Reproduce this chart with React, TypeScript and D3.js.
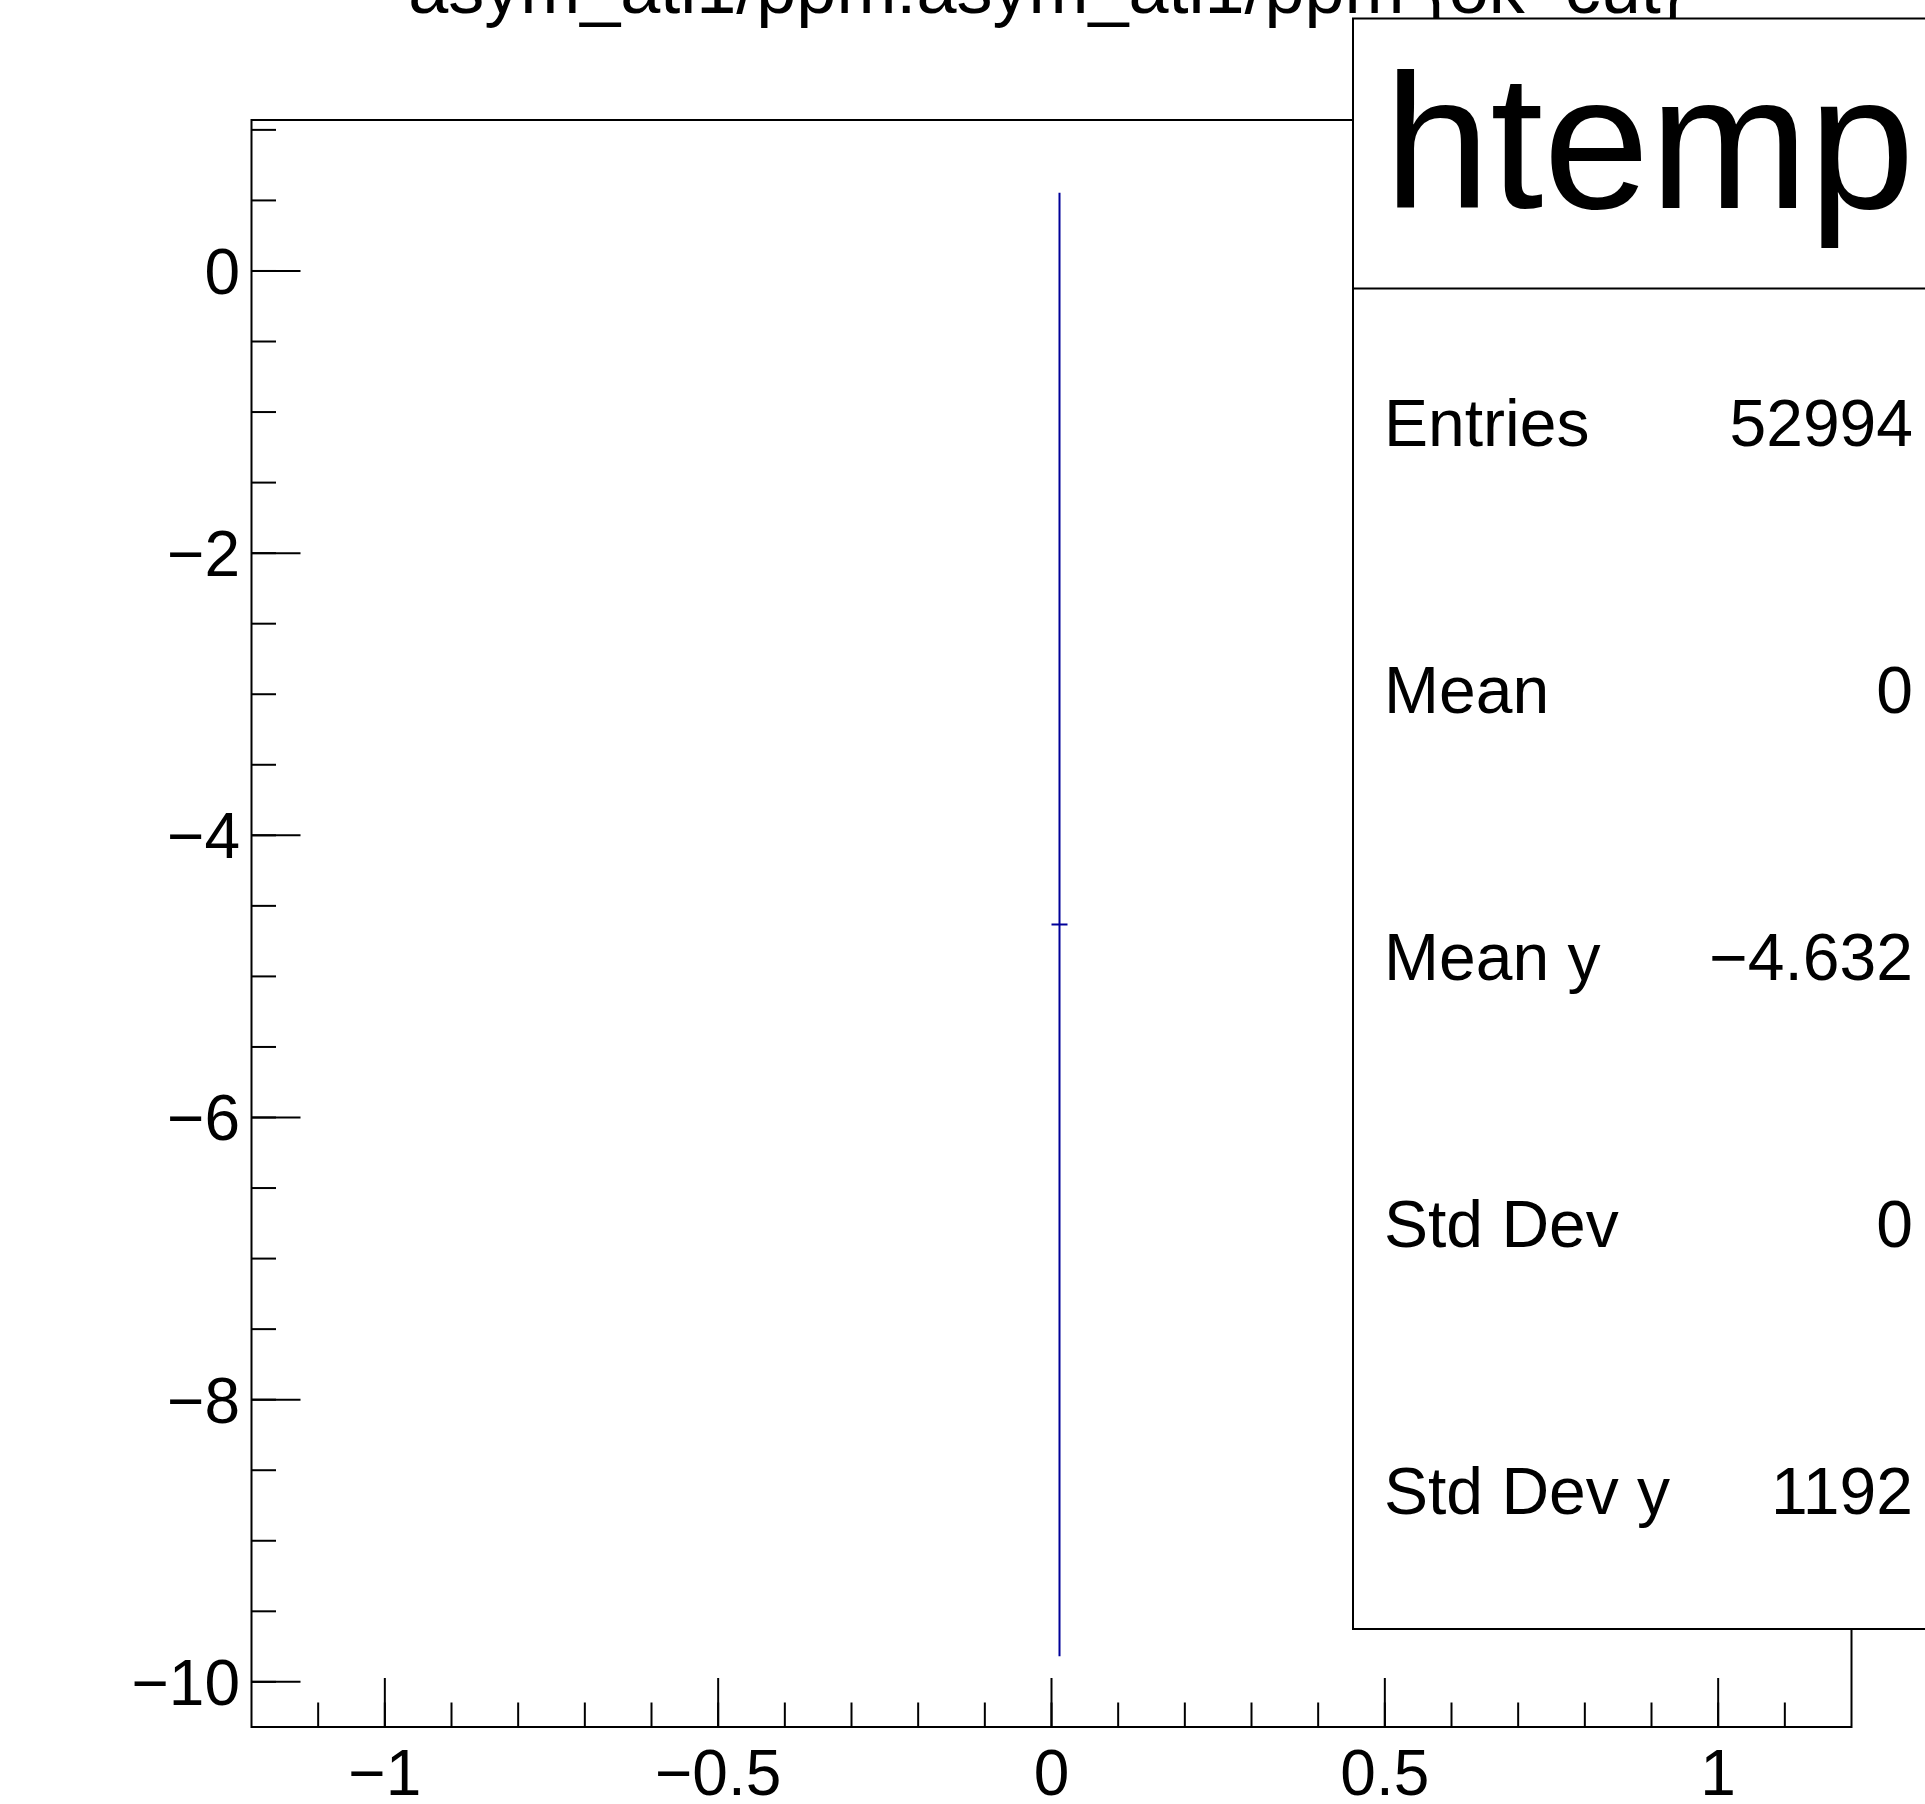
import React from "react";
import * as d3 from "d3";

// ---- data ----
const binCenters = [0.012];
const binMeans = [-4.632];
const binErrors = [5.186];
const binWidth = 0.024;

const xMajorTicks = [-1, -0.5, 0, 0.5, 1];
const yMajorTicks = [0, -2, -4, -6, -8, -10];
const xDomain = [-1.2, 1.2];
const yDomain = [-10.32, 1.07];

const titleText = "asym_atl1/ppm:asym_atl1/ppm {ok_cut}";
const statsName = "htemp";
const statsLabels = ["Entries", "Mean", "Mean y", "Std Dev", "Std Dev y"];
const statsValues = ["52994", "0", "\u22124.632", "0", "1192"];

const W = 1925;
const H = 1804;
const frame = { left: 251.5, right: 1851.5, top: 120, bottom: 1727 };
const FONT = "'Liberation Sans', Arial, Helvetica, sans-serif";
const LINE_COLOR = "#000099";

const fmt = (v: number) => {
  const s = d3.format("")(v);
  return s.replace("-", "\u2212");
};

export default function App() {
  const x = d3.scaleLinear().domain(xDomain).range([frame.left, frame.right]);
  const y = d3.scaleLinear().domain(yDomain).range([frame.bottom, frame.top]);

  const xMinor = d3.range(-11, 12).map((i) => i / 10).filter((v) => v >= xDomain[0] && v <= xDomain[1]);
  const yMinor = d3.range(-21, 3).map((i) => i / 2).filter((v) => v >= yDomain[0] && v <= yDomain[1]);

  const majorLen = 49;
  const minorLen = 24.5;

  const stats = { x: 1353, y: 18.5, w: 620, h: 1610.5, div: 288.5 };

  return (
    <div style={{ position: "absolute", left: 0, top: 0, width: W, height: H, overflow: "hidden" }}>
      <svg width={W} height={H} style={{ display: "block", background: "#fff" }} fontFamily={FONT}>
        <rect x={0} y={0} width={W} height={H} fill="#fff" />
        {/* title */}
        <text x={1046.5} y={13} fontSize={72} textAnchor="middle" fill="#000">
          {titleText}
        </text>

        {/* frame */}
        <rect
          x={frame.left}
          y={frame.top}
          width={frame.right - frame.left}
          height={frame.bottom - frame.top}
          fill="none"
          stroke="#000"
          strokeWidth={2}
        />

        {/* x axis ticks */}
        {xMinor.map((v, i) => (
          <line key={"xm" + i} x1={x(v)} x2={x(v)} y1={frame.bottom} y2={frame.bottom - minorLen} stroke="#000" strokeWidth={2} />
        ))}
        {xMajorTicks.map((v, i) => (
          <g key={"xM" + i}>
            <line x1={x(v)} x2={x(v)} y1={frame.bottom} y2={frame.bottom - majorLen} stroke="#000" strokeWidth={2} />
            <text x={x(v)} y={1795} fontSize={64} textAnchor="middle" fill="#000">
              {fmt(v)}
            </text>
          </g>
        ))}

        {/* y axis ticks */}
        {yMinor.map((v, i) => (
          <line key={"ym" + i} x1={frame.left} x2={frame.left + minorLen} y1={y(v)} y2={y(v)} stroke="#000" strokeWidth={2} />
        ))}
        {yMajorTicks.map((v, i) => (
          <g key={"yM" + i}>
            <line x1={frame.left} x2={frame.left + majorLen} y1={y(v)} y2={y(v)} stroke="#000" strokeWidth={2} />
            <text x={240} y={y(v) + 23} fontSize={64} textAnchor="end" fill="#000">
              {fmt(v)}
            </text>
          </g>
        ))}

        {/* profile points with error bars */}
        {binCenters.map((c, i) => (
          <g key={"p" + i} stroke={LINE_COLOR} strokeWidth={2}>
            <line x1={x(c)} x2={x(c)} y1={y(binMeans[i] + binErrors[i])} y2={y(binMeans[i] - binErrors[i])} />
            <line x1={x(c - binWidth / 2)} x2={x(c + binWidth / 2)} y1={y(binMeans[i])} y2={y(binMeans[i])} />
          </g>
        ))}

        {/* stats box */}
        <rect x={stats.x} y={stats.y} width={stats.w} height={stats.h} fill="#fff" stroke="#000" strokeWidth={2} />
        <line x1={stats.x} x2={stats.x + stats.w} y1={stats.div} y2={stats.div} stroke="#000" strokeWidth={2} />
        <text x={1384} y={208} fontSize={191} fill="#000">
          {statsName}
        </text>
        {statsLabels.map((lab, i) => (
          <g key={"s" + i}>
            <text x={1384} y={446 + i * 267} fontSize={66} fill="#000">
              {lab}
            </text>
            <text x={1913} y={446 + i * 267} fontSize={66} textAnchor="end" fill="#000">
              {statsValues[i]}
            </text>
          </g>
        ))}
      </svg>
    </div>
  );
}
